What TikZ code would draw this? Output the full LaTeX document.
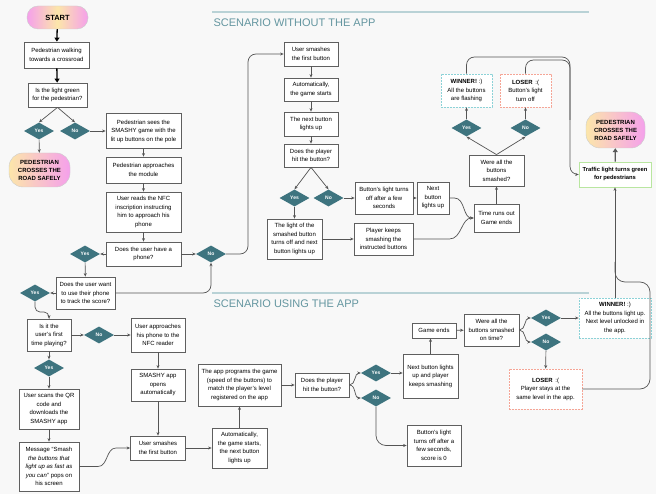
\documentclass[tikz,border=0pt]{standalone}
\usepackage{fontspec}
\setmainfont{Liberation Sans}
\usetikzlibrary{shapes.geometric,arrows.meta}
\definecolor{bg}{RGB}{248,248,248}
\definecolor{dteal}{RGB}{62,116,127}
\definecolor{headc}{RGB}{100,150,160}
\definecolor{rulec}{RGB}{185,210,214}
\definecolor{linec}{RGB}{85,85,85}
\definecolor{boxc}{RGB}{95,95,95}
\definecolor{winc}{RGB}{140,210,215}
\definecolor{losec}{RGB}{245,165,150}
\definecolor{trafc}{RGB}{185,230,160}
\definecolor{pinkc}{RGB}{245,160,235}
\definecolor{yelc}{RGB}{252,230,170}
\begin{document}
\begin{tikzpicture}[x=1pt,y=-1pt,font=\fontsize{6}{8.5}\selectfont,
  box/.style={draw=boxc, fill=white, line width=0.8pt, align=center, inner sep=1pt},
  wh/.style 2 args={minimum width=#1pt, minimum height=#2pt},
  dia/.style={diamond, fill=dteal, text=white, font=\fontsize{5}{6}\selectfont\bfseries, minimum width=30pt, minimum height=17pt, inner sep=0pt},
  pill/.style={draw=gray!40, align=center, font=\fontsize{6}{8}\selectfont\bfseries, left color=yelc, right color=pinkc, rounded corners=14pt},
  winbox/.style={box, draw=winc, dash pattern=on 2pt off 1pt},
  losebox/.style={box, draw=losec, dash pattern=on 2pt off 1pt},
  conn/.style={draw=linec, line width=0.7pt, -{Stealth[length=3.5pt,width=3pt]}},
  plainline/.style={draw=linec, line width=0.7pt},
  bigarr/.style={draw=black, line width=1.3pt, -{Triangle[length=4pt,width=5pt]}},
  grayarr/.style={draw=gray!70!black, line width=1.2pt, -{Triangle[length=4pt,width=5pt]}},
  heading/.style={anchor=west, text=headc, font=\fontsize{11}{13}\selectfont},
  rulel/.style={draw=rulec, line width=1.2pt}]
\fill[bg] (0,0) rectangle (656,494);
\useasboundingbox (0,0) rectangle (656,494);

% headings
\draw[rulel] (212,12) -- (589,12);
\node[heading] (h1) at (210,23) {SCENARIO WITHOUT THE APP};
\draw[rulel] (212,293) -- (589,293);
\node[heading] (h2) at (210,304) {SCENARIO USING THE APP};

% scenario 1
\node[pill, wh={61}{23}, rounded corners=11pt, left color=pinkc, right color=pinkc, middle color=yelc, font=\fontsize{7.5}{9}\selectfont\bfseries] (start) at (57.5,17.5) {START};
\node[box, wh={65}{26}] (walk) at (56.5,55) {Pedestrian walking\\towards a crossroad};
\node[box, wh={59}{24}] (green) at (57.5,95) {Is the light green\\for the pedestrian?};
\node[dia] (y1) at (39,131) {Yes};
\node[dia] (n1) at (75,131) {No};
\node[pill, wh={61}{34}] (cross1) at (39.5,170) {PEDESTRIAN\\CROSSES THE\\ROAD SAFELY};
\node[box, wh={75}{35}] (sees) at (143.5,131) {Pedestrian sees the\\SMASHY game with the\\lit up buttons on the pole};
\node[box, wh={75}{26}] (appr) at (143.5,170) {Pedestrian approaches\\the module};
\node[box, wh={75}{40}] (nfc) at (143.5,212) {User reads the NFC\\inscription instructing\\him to approach his\\phone};
\node[box, wh={75}{24}] (phone) at (143.5,254) {Does the user have a\\phone?};
\node[dia] (y2) at (85,254) {Yes};
\node[dia] (n2) at (211,254) {No};
\node[box, wh={59}{32}] (want) at (85.5,293) {Does the user want\\to use their phone\\to track the score?};
\node[dia] (y3) at (35,293) {Yes};

\node[box, wh={54}{24}] (smash1) at (311,54) {User smashes\\the first button};
\node[box, wh={54}{23}] (auto1) at (311,89.5) {Automatically,\\the game starts};
\node[box, wh={54}{24}] (next1) at (311,124) {The next button\\lights up};
\node[box, wh={54}{23}] (hit1) at (311,155.5) {Does the player\\hit the button?};
\node[dia] (y4) at (294.5,198) {Yes};
\node[dia] (n4) at (328.5,198) {No};
\node[box, wh={58}{32}] (off1) at (384,198) {Button's light turns\\off after a few\\seconds};
\node[box, wh={32}{32}] (nb1) at (433,198) {Next\\button\\lights up};
\node[box, wh={55}{40}] (light) at (294.5,239) {The light of the\\smashed button\\turns off and next\\button lights up};
\node[box, wh={59}{32}] (keeps) at (383.5,239) {Player keeps\\smashing the\\instructed buttons};
\node[box, wh={45}{28}] (tro) at (496.5,218) {Time runs out\\Game ends};
\node[box, wh={55}{31}] (were1) at (496.5,170.5) {Were all the\\buttons\\smashed?};
\node[dia] (y5) at (466.5,128) {Yes};
\node[dia] (n5) at (525.5,128) {No};
\node[winbox, wh={51}{33}] (win1) at (466.5,90.5) {\textbf{WINNER!} :)\\All the buttons\\are flashing};
\node[losebox, wh={51}{33}] (lose1) at (525.5,90.5) {\textbf{LOSER} \,:(\\Button's light\\turn off};
\node[box, draw=trafc, wh={72}{25}, font=\fontsize{5.8}{8}\selectfont\bfseries] (traffic) at (615,174.5) {Traffic light turns green\\for pedestrians};
\node[pill, wh={59}{36}] (cross2) at (615.5,130) {PEDESTRIAN\\CROSSES THE\\ROAD SAFELY};

% scenario 2
\node[box, wh={44}{32}] (first) at (49,335) {Is it the\\user's first\\time playing?};
\node[dia] (n6) at (99,335) {No};
\node[dia] (y6) at (49,368) {Yes};
\node[box, wh={54}{34}] (nfcr) at (158,335) {User approaches\\his phone to the\\NFC reader};
\node[box, wh={60}{40}] (scan) at (49,409) {User scans the QR\\code and\\downloads the\\SMASHY app};
\node[box, wh={60}{49}] (msg) at (49,466.5) {Message “Smash\\\textit{the buttons that}\\\textit{light up as fast as}\\\textit{you can”} pops on\\his screen};
\node[box, wh={54}{32}] (opens) at (158,385) {SMASHY app\\opens\\automatically};
\node[box, wh={55}{24}] (smash2) at (158,448) {User smashes\\the first button};
\node[box, wh={55}{40}] (auto2) at (239.5,448) {Automatically,\\the game starts,\\the next button\\lights up};
\node[box, wh={83}{42}] (prog) at (239.5,385) {The app programs the game\\(speed of the buttons) to\\match the player's level\\registered on the app};
\node[box, wh={54}{24}] (hit2) at (322,385) {Does the player\\hit the button?};
\node[dia] (y7) at (376,373) {Yes};
\node[dia] (n7) at (376,398) {No};
\node[box, wh={55}{44}] (nb2) at (430.5,376) {Next button lights\\up and player\\keeps smashing};
\node[box, wh={54}{41}] (off2) at (434,445.5) {Button's light\\turns off after a\\few seconds,\\score is 0};
\node[box, wh={44}{15}] (ge) at (434,330.5) {Game ends};
\node[box, wh={55}{32}] (were2) at (491.5,330) {Were all the\\buttons smashed\\on time?};
\node[dia] (y8) at (546,318) {Yes};
\node[dia] (n8) at (546,342) {No};
\node[winbox, wh={72}{40}] (win2) at (615,318) {\textbf{WINNER!} :)\\All the buttons light up.\\Next level unlocked in\\the app.};
\node[losebox, wh={73}{40}] (lose2) at (545.5,389) {\textbf{LOSER} \,:(\\Player stays at the\\same level in the app.};

% connectors scenario 1
\draw[bigarr] (start) -- (walk);
\draw[bigarr] (walk) -- (green);
\draw[conn] (green.south) -- (y1.north);
\draw[conn] (green.south) -- (n1.north);
\draw[conn] (n1.east) -- (n1.east -| sees.west);
\draw[conn] (y1) -- (cross1);
\draw[conn] (sees) -- (appr);
\draw[conn] (appr) -- (nfc);
\draw[conn] (nfc) -- (phone);
\draw[conn] (phone) -- (y2);
\draw[conn] (phone) -- (n2);
\draw[conn] (y2) -- (want);
\draw[conn] (want) -- (y3);
\draw[conn, rounded corners=8pt] (want.east) -| (n2.south);
\draw[conn, rounded corners=8pt] (n2.east) -| (248,150) |- (smash1.west);
\draw[conn] (smash1) -- (auto1);
\draw[conn] (auto1) -- (next1);
\draw[conn] (next1) -- (hit1);
\draw[conn] (hit1.south) -- (y4.north);
\draw[conn] (hit1.south) -- (n4.north);
\draw[conn] (n4) -- (off1);
\draw[conn] (off1) -- (nb1);
\draw[conn] (y4) -- (light);
\draw[conn] (light) -- (keeps);
\draw[conn] (nb1.east) -- ++(5,0) to[out=0,in=180] (tro.west);
\draw[conn] (keeps.east) -- ++(36,0) to[out=0,in=180] (tro.west);
\draw[conn] (tro) -- (were1);
\draw[conn] (were1.north) -- (y5.south);
\draw[conn] (were1.north) -- (n5.south);
\draw[conn] (y5) -- (win1);
\draw[conn] (n5) -- (lose1);
\draw[conn, rounded corners=8pt] (win1.north) |- (570,57) |- (traffic.west);
\draw[plainline, rounded corners=8pt] (lose1.north) |- (570,60) -- (570,120);
\draw[grayarr] (traffic) -- (cross2);
\draw[conn] (win2.north) -- (traffic.south);
\draw[plainline, rounded corners=10pt] (lose2.east) -| (650,282) -| (615,262);

% connectors scenario 2
\draw[conn, rounded corners=5pt] (y3.south) |- (49,312) -- (first.north);
\draw[conn] (first) -- (n6);
\draw[conn] (n6) -- (nfcr);
\draw[conn] (first) -- (y6);
\draw[conn] (y6) -- (scan);
\draw[conn] (scan) -- (msg);
\draw[conn] (nfcr) -- (opens);
\draw[conn] (opens) -- (smash2);
\draw[conn] (msg.east) -- (98,466.5) to[out=0,in=180] (116,448) -- (smash2.west);
\draw[conn] (smash2) -- (auto2);
\draw[conn] (auto2) -- (prog);
\draw[conn] (prog) -- (hit2);
\draw[conn] (hit2.east) to[out=0,in=180] (y7.west);
\draw[conn] (hit2.east) to[out=0,in=180] (n7.west);
\draw[conn] (y7.east) -- (y7.east -| nb2.west);
\draw[conn, rounded corners=10pt] (n7.south) |- (off2.west);
\draw[conn] (nb2.north) -- (nb2.north |- ge.south);
\draw[conn] (ge) -- (were2);
\draw[conn] (were2.east) to[out=0,in=180] (y8.west);
\draw[conn] (were2.east) to[out=0,in=180] (n8.west);
\draw[conn] (y8.east) -- (y8.east -| win2.west);
\draw[conn] (n8) -- (lose2);
\end{tikzpicture}
\end{document}
